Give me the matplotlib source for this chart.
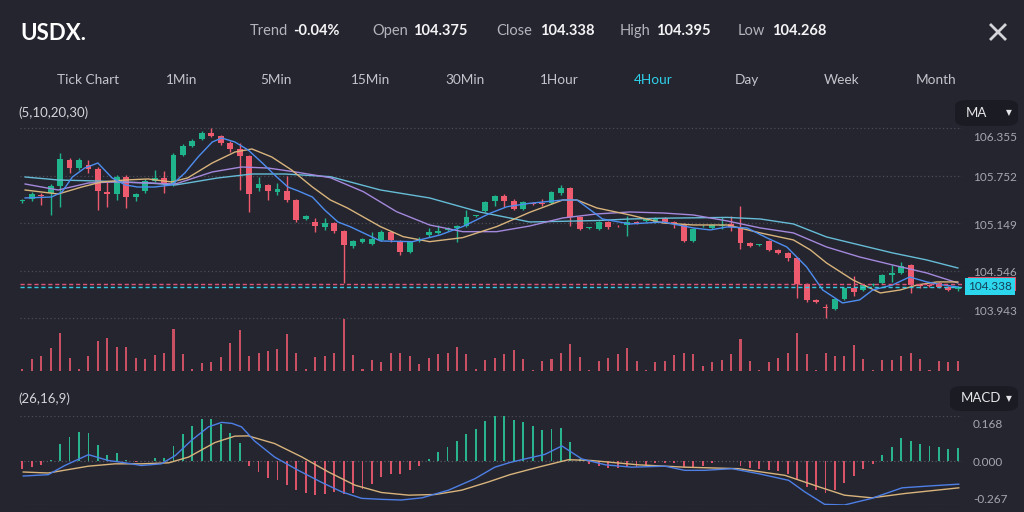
import numpy as np
import matplotlib
matplotlib.use("Agg")
import matplotlib.pyplot as plt
from matplotlib.lines import Line2D
from matplotlib.patches import FancyBboxPatch, Rectangle

plt.rcParams['font.family'] = ['Lato', 'DejaVu Sans']

W, H = 1024, 512
bg = '#25252f'
grid_c = '#4c4c58'
up_c = '#20b48d'
down_c = '#ee5a6e'

# ---- data (4 hour candles) ----
opens = [105.425, 105.454, 105.495, 105.530, 105.619, 105.949, 105.847, 105.885, 105.835, 105.543,
         105.517, 105.733, 105.479, 105.556, 105.682, 105.721, 105.644, 106.012, 106.127, 106.215,
         106.292, 106.253, 106.165, 106.089, 106.000, 105.594, 105.632, 105.543, 105.556, 105.441,
         105.200, 105.162, 105.099, 105.149, 105.048, 104.858, 104.908, 104.883, 104.934, 105.035,
         104.921, 104.782, 104.921, 104.997, 105.023, 105.061, 105.086, 105.111, 105.238, 105.302,
         105.429, 105.492, 105.429, 105.327, 105.403, 105.403, 105.403, 105.530, 105.594, 105.226,
         105.086, 105.073, 105.162, 105.111, 105.124, 105.162, 105.175, 105.162, 105.213, 105.162,
         105.137, 104.921, 105.105, 105.086, 105.111, 105.137, 105.099, 104.896, 104.867, 104.921,
         104.807, 104.769, 104.705, 104.375, 104.172, 104.078, 104.058, 104.185, 104.325, 104.299,
         104.363, 104.388, 104.490, 104.515, 104.616, 104.350, 104.356, 104.388, 104.337, 104.305]
highs = [105.454, 105.543, 105.530, 105.644, 106.038, 105.974, 105.974, 105.949, 105.860, 105.670,
         105.759, 105.759, 105.530, 105.708, 105.822, 105.809, 106.038, 106.152, 106.215, 106.317,
         106.355, 106.266, 106.190, 106.165, 106.012, 105.733, 105.644, 105.657, 105.746, 105.454,
         105.251, 105.213, 105.213, 105.162, 105.061, 104.934, 104.960, 105.035, 105.061, 105.048,
         104.934, 104.921, 104.972, 105.086, 105.124, 105.099, 105.124, 105.314, 105.251, 105.429,
         105.505, 105.517, 105.454, 105.429, 105.416, 105.454, 105.556, 105.632, 105.606, 105.238,
         105.099, 105.175, 105.175, 105.124, 105.238, 105.175, 105.213, 105.226, 105.226, 105.175,
         105.149, 105.086, 105.124, 105.137, 105.226, 105.238, 105.365, 104.908, 104.883, 104.934,
         104.820, 104.782, 104.718, 104.388, 104.185, 104.122, 104.198, 104.337, 104.477, 104.375,
         104.388, 104.502, 104.616, 104.655, 104.629, 104.363, 104.375, 104.401, 104.350, 104.350]
lows = [105.403, 105.429, 105.378, 105.251, 105.352, 105.784, 105.822, 105.784, 105.314, 105.352,
        105.441, 105.340, 105.429, 105.530, 105.670, 105.530, 105.619, 106.000, 106.114, 106.203,
        106.240, 106.139, 106.050, 105.568, 105.289, 105.556, 105.441, 105.505, 105.416, 105.162,
        105.188, 105.035, 105.061, 105.023, 104.388, 104.832, 104.896, 104.870, 104.921, 104.908,
        104.743, 104.769, 104.908, 104.972, 105.010, 105.048, 104.908, 105.099, 105.226, 105.289,
        105.365, 105.352, 105.314, 105.314, 105.378, 105.365, 105.391, 105.505, 105.111, 105.061,
        105.073, 105.061, 105.073, 105.092, 104.985, 105.137, 105.162, 105.149, 105.149, 105.086,
        104.908, 104.908, 105.092, 105.073, 105.073, 105.048, 104.820, 104.845, 104.858, 104.794,
        104.756, 104.667, 104.198, 104.147, 104.134, 103.944, 104.045, 104.172, 104.223, 104.287,
        104.350, 104.375, 104.401, 104.502, 104.261, 104.325, 104.337, 104.325, 104.287, 104.287]
closes = [105.432, 105.517, 105.490, 105.619, 105.962, 105.847, 105.949, 105.835, 105.556, 105.517,
          105.733, 105.479, 105.517, 105.682, 105.721, 105.644, 106.012, 106.127, 106.190, 106.292,
          106.253, 106.165, 106.089, 106.000, 105.517, 105.644, 105.556, 105.581, 105.441, 105.188,
          105.238, 105.111, 105.149, 105.048, 104.870, 104.921, 104.947, 104.947, 105.035, 104.934,
          104.782, 104.908, 104.947, 105.035, 105.048, 105.086, 105.111, 105.226, 105.245, 105.416,
          105.492, 105.429, 105.327, 105.416, 105.391, 105.391, 105.543, 105.594, 105.226, 105.073,
          105.092, 105.162, 105.099, 105.105, 105.162, 105.149, 105.200, 105.213, 105.162, 105.137,
          104.921, 105.073, 105.111, 105.124, 105.124, 105.099, 104.896, 104.858, 104.873, 104.807,
          104.769, 104.705, 104.375, 104.172, 104.147, 104.071, 104.185, 104.325, 104.274, 104.363,
          104.375, 104.490, 104.515, 104.604, 104.363, 104.344, 104.350, 104.337, 104.299, 104.338]
volumes = [2, 12, 15, 23, 38, 13, 2, 15, 30, 33, 24, 24, 13, 12, 16, 18, 42, 17, 2, 8,
           9, 14, 28, 41, 15, 18, 20, 22, 37, 18, 2, 14, 15, 18, 52, 16, 2, 11, 9, 18,
           18, 15, 7, 13, 17, 18, 24, 17, 2, 11, 13, 17, 21, 12, 1, 10, 12, 18, 27, 14,
           1, 10, 13, 17, 23, 10, 1, 9, 10, 16, 18, 17, 5, 9, 11, 17, 32, 10, 1, 9,
           13, 18, 38, 17, 1, 18, 15, 15, 26, 12, 1, 11, 11, 15, 18, 12, 1, 10, 9, 10]

# moving averages, sampled along the drawn lines (candle index, price)
ma5_idx = [0.3, 3.1, 4.2, 5.3, 6.6, 8.0, 9.5, 10.9, 12.2, 14.0, 15.8, 17.2, 18.6, 20.1, 21.1, 22.5,
           23.9, 25.4, 26.7, 28.1, 29.2, 30.7, 32.0, 33.4, 34.7, 37.9, 41.3, 44.2, 46.6, 49.5, 51.3,
           53.7, 57.2, 58.7, 61.4, 64.3, 67.8, 71.0, 72.8, 74.6, 76.7, 78.8, 80.9, 83.0, 84.7, 86.8,
           88.6, 90.0, 92.1, 93.9, 95.7, 97.4, 99.0]
ma5_val = [105.467, 105.479, 105.543, 105.733, 105.847, 105.911, 105.721, 105.632, 105.606, 105.606,
           105.632, 105.784, 105.987, 106.177, 106.228, 106.177, 106.076, 105.911, 105.759, 105.606,
           105.556, 105.479, 105.314, 105.162, 105.102, 104.921, 104.912, 104.997, 105.103, 105.273,
           105.356, 105.399, 105.441, 105.441, 105.200, 105.137, 105.162, 105.086, 105.061, 105.099,
           105.086, 104.960, 104.845, 104.591, 104.299, 104.134, 104.172, 104.299, 104.363, 104.464,
           104.401, 104.363, 104.337]
ma10_idx = [0.3, 3.8, 6.3, 8.4, 10.9, 13.3, 15.8, 17.5, 20.1, 22.5, 24.3, 26.4, 28.5, 30.7, 32.6,
            34.4, 37.9, 40.3, 43.1, 46.6, 50.2, 53.7, 57.2, 58.7, 60.8, 64.3, 67.8, 71.0, 74.6, 78.1,
            81.6, 83.4, 85.1, 87.9, 90.8, 92.9, 94.7, 96.8, 99.0]
ma10_val = [105.568, 105.517, 105.606, 105.670, 105.695, 105.708, 105.670, 105.721, 105.911, 106.050,
            106.089, 105.987, 105.822, 105.606, 105.441, 105.340, 105.103, 104.976, 104.912, 104.963,
            105.103, 105.285, 105.441, 105.441, 105.340, 105.251, 105.149, 105.124, 105.124, 105.023,
            104.934, 104.807, 104.642, 104.426, 104.261, 104.299, 104.363, 104.401, 104.401]
ma20_idx = [0.3, 3.8, 7.0, 9.8, 13.3, 16.2, 20.1, 23.2, 26.0, 28.9, 32.6, 36.1, 39.6, 43.1, 46.6,
            50.2, 53.7, 57.2, 60.8, 64.3, 67.8, 71.0, 74.6, 78.1, 81.6, 85.1, 88.6, 92.1, 95.7, 99.0]
ma20_val = [105.644, 105.568, 105.657, 105.670, 105.657, 105.644, 105.797, 105.860, 105.847, 105.797,
            105.724, 105.546, 105.293, 105.124, 105.039, 105.039, 105.111, 105.213, 105.264, 105.289,
            105.276, 105.251, 105.175, 105.086, 105.023, 104.845, 104.718, 104.616, 104.515, 104.388]
ma30_idx = [0.3, 3.8, 8.0, 13.3, 16.2, 17.5, 20.7, 24.3, 27.8, 32.6, 37.9, 43.1, 48.4, 53.7, 60.8,
            64.3, 67.8, 74.6, 78.1, 81.6, 85.1, 88.6, 92.1, 95.7, 99.0]
ma30_val = [105.733, 105.695, 105.682, 105.657, 105.632, 105.657, 105.721, 105.771, 105.771, 105.737,
            105.568, 105.467, 105.289, 105.162, 105.180, 105.200, 105.210, 105.220, 105.200, 105.137,
            104.972, 104.870, 104.769, 104.680, 104.578]

# MACD (26,16,9)
macd_hist = [-0.053, -0.040, -0.024, 0.002, 0.064, 0.087, 0.108, 0.104, 0.057, 0.022,
             0.028, 0.002, -0.010, -0.003, 0.010, 0.009, 0.055, 0.099, 0.130, 0.155,
             0.157, 0.136, 0.104, 0.066, -0.030, -0.069, -0.105, -0.119, -0.144, -0.178,
             -0.192, -0.204, -0.198, -0.188, -0.198, -0.192, -0.168, -0.138, -0.099, -0.083,
             -0.083, -0.059, -0.034, 0.004, 0.032, 0.051, 0.073, 0.099, 0.118, 0.150,
             0.168, 0.168, 0.153, 0.144, 0.130, 0.115, 0.118, 0.123, 0.070, 0.004,
             -0.020, -0.034, -0.046, -0.046, -0.040, -0.040, -0.026, -0.014, -0.014, -0.014,
             -0.040, -0.040, -0.030, -0.014, -0.004, -0.004, -0.030, -0.046, -0.050, -0.059,
             -0.065, -0.079, -0.119, -0.158, -0.178, -0.192, -0.178, -0.132, -0.093, -0.053,
             -0.020, 0.019, 0.051, 0.085, 0.074, 0.061, 0.055, 0.051, 0.045, 0.047]
dif_idx = [0.1, 2.75, 4.5, 7.0, 9.1, 10.9, 12.6, 14.7, 16.2, 17.9, 19.7, 21.1, 22.2, 23.2, 24.6,
           26.7, 29.2, 31.7, 33.8, 35.9, 38.0, 40.1, 42.3, 45.1, 47.9, 50.0, 51.6, 53.2, 55.3, 57.1,
           59.2, 61.7, 64.5, 68.0, 70.1, 72.2, 75.1, 77.9, 81.1, 82.8, 84.9, 87.0, 89.9, 93.1, 96.2, 99.1]
dif_val = [-0.093, -0.085, -0.030, 0.022, 0.000, -0.014, -0.030, -0.020, 0.019, 0.076, 0.127, 0.144,
           0.140, 0.127, 0.073, 0.013, -0.059, -0.132, -0.188, -0.227, -0.233, -0.237, -0.224, -0.178,
           -0.109, -0.040, -0.012, 0.006, 0.023, 0.055, 0.006, -0.026, -0.040, -0.034, -0.059, -0.059,
           -0.049, -0.079, -0.119, -0.188, -0.263, -0.267, -0.227, -0.164, -0.152, -0.142]
dea_idx = [0.1, 2.75, 7.0, 9.8, 12.6, 15.5, 17.6, 20.4, 22.5, 23.9, 26.7, 29.6, 32.4, 35.2, 38.0,
           40.9, 43.7, 46.5, 49.3, 51.6, 54.6, 57.8, 60.2, 65.2, 70.1, 75.8, 80.7, 84.3, 87.0, 89.9,
           93.4, 99.1]
dea_val = [-0.069, -0.075, -0.034, -0.020, -0.020, -0.014, 0.013, 0.068, 0.092, 0.093, 0.064, 0.013,
           -0.069, -0.148, -0.192, -0.208, -0.204, -0.178, -0.129, -0.085, -0.040, 0.003, 0.000, -0.026,
           -0.040, -0.049, -0.089, -0.158, -0.208, -0.224, -0.198, -0.164]

price_levels = [106.355, 105.752, 105.149, 104.546, 103.943]
macd_top, macd_bottom = 0.168, -0.267
last_open, last_close = 104.375, 104.338

header_labels = ["Trend", "Open", "Close", "High", "Low"]
header_values = ["-0.04%", "104.375", "104.338", "104.395", "104.268"]
tabs = ["Tick Chart", "1Min", "5Min", "15Min", "30Min", "1Hour", "4Hour", "Day", "Week", "Month"]
active_tab = "4Hour"


def rect(x0, y0, x1, y1):
    return [x0 / W, 1 - y1 / H, (x1 - x0) / W, (y1 - y0) / H]


def fx(x):
    return x / W


def fy(y):
    return 1 - y / H


def clean(ax):
    ax.set_facecolor('none')
    for s in ax.spines.values():
        s.set_visible(False)
    ax.set_xticks([])
    ax.set_yticks([])
    ax.tick_params(which='both', left=False, bottom=False, labelleft=False, labelbottom=False)


fig = plt.figure(figsize=(W / 100, H / 100), dpi=100, facecolor=bg)

n = len(closes)
idx = np.arange(n)
xlim = (-0.243, 99.44)

# ---- price panel ----
ppu = (318 - 128) / (price_levels[0] - price_levels[-1])
ax = fig.add_axes(rect(20, 120, 962, 320))
clean(ax)
ax.set_xlim(*xlim)
ax.set_ylim(price_levels[-1] - 2 / ppu, price_levels[0] + 8 / ppu)

for lv in price_levels:
    ax.axhline(lv, color=grid_c, lw=0.9, ls=(0, (1, 2)), zorder=0)

o = np.array(opens)
c = np.array(closes)
cols = [up_c if cc >= oo else down_c for oo, cc in zip(o, c)]
ax.vlines(idx, lows, highs, colors=cols, lw=1, zorder=2)
body = np.maximum(np.abs(c - o), 0.012)
ax.bar(idx, body, bottom=np.minimum(o, c), width=0.62, color=cols, zorder=3)

ax.plot(ma30_idx, ma30_val, color='#66bcd6', lw=1, zorder=4)
ax.plot(ma20_idx, ma20_val, color='#a488dc', lw=1, zorder=4)
ax.plot(ma10_idx, ma10_val, color='#d8b47c', lw=1, zorder=4)
ax.plot(ma5_idx, ma5_val, color='#4d8ef0', lw=1, zorder=4)

ax.axhline(last_open, color='#dd5478', lw=1, ls=(0, (3, 2)), zorder=5)
ax.axhline(last_close, color='#34c9e2', lw=1, ls=(0, (3, 2)), zorder=5)

ytr = ax.get_yaxis_transform()
for k, lv in enumerate(price_levels):
    if k == 0:
        va, dy = 'top', -4
    elif k == len(price_levels) - 1:
        va, dy = 'bottom', 1
    else:
        va, dy = 'center', -2
    ax.annotate(f"{lv:.3f}", xy=(1.0117, lv), xycoords=ytr, xytext=(0, dy),
                textcoords='offset pixels', va=va, ha='left', fontsize=8.5,
                color='#a6a6b0', annotation_clip=False)

# open-price marker sits mostly hidden behind the close-price label
ax.add_patch(Rectangle((fx(968), fy(291)), fx(48), 14 / H, fc='#e0506a', ec='none',
                       transform=fig.transFigure, zorder=6, clip_on=False))
ax.text(1.0065, last_close, f"{last_close:.3f}", transform=ytr, ha='left', va='center',
        fontsize=8.5, color='#15405a',
        bbox=dict(boxstyle='square,pad=0.25', fc='#2cd6ec', ec='none'), zorder=7, clip_on=False)

# ---- volume ----
axv = fig.add_axes(rect(20, 318, 962, 371))
clean(axv)
axv.set_xlim(*xlim)
axv.set_ylim(0, 53)
axv.bar(idx, np.maximum(volumes, 1.5), width=0.22, color='#c94f63')

# ---- MACD ----
def fwd(v):
    v = np.asarray(v, float)
    return np.where(v >= 0, v / macd_top, v / -macd_bottom)


def inv(u):
    u = np.asarray(u, float)
    return np.where(u >= 0, u * macd_top, u * -macd_bottom)


axm = fig.add_axes(rect(20, 416, 962, 505))
axm.set_yscale('function', functions=(fwd, inv))
clean(axm)
axm.set_xlim(*xlim)
axm.set_ylim(macd_bottom, macd_top)
for lv in (macd_top, 0.0, macd_bottom):
    axm.axhline(lv, color=grid_c if lv else '#5a5a66', lw=0.9, ls=(0, (1, 2)), zorder=0)
hist = np.array(macd_hist)
hcols = ['#2ab48e' if h >= 0 else '#d95468' for h in hist]
axm.bar(idx, hist, width=0.2, color=hcols, zorder=2)
axm.plot(dea_idx, dea_val, color='#d8b47c', lw=1, zorder=3)
axm.plot(dif_idx, dif_val, color='#4d7fe6', lw=1, zorder=3)

mtr = axm.get_yaxis_transform()
for lv, va, dy in ((macd_top, 'top', -3), (0.0, 'center', -2), (macd_bottom, 'bottom', 0)):
    axm.annotate(f"{lv:.3f}", xy=(1.0117, lv), xycoords=mtr, xytext=(0, dy),
                 textcoords='offset pixels', va=va, ha='left', fontsize=8.5,
                 color='#a6a6b0', annotation_clip=False)

# ---- header, tabs, captions ----
fig.text(fx(20), fy(33), "USDX.", fontsize=16, fontweight='bold', color='white', va='center')
label_x = [250, 372, 496, 620, 738]
value_x = [293, 413, 540, 656, 772]
for lab, val, x0, x1 in zip(header_labels, header_values, label_x, value_x):
    fig.text(fx(x0), fy(31), lab, fontsize=10.5, color='#b4b4bc', va='center')
    fig.text(fx(x1), fy(31), val, fontsize=10.5, fontweight='bold', color='#f4f4f6', va='center')

for (a, b) in (((991, 25), (1005, 39)), ((991, 39), (1005, 25))):
    fig.add_artist(Line2D([fx(a[0]), fx(b[0])], [fy(a[1]), fy(b[1])], color='#d4d4da', lw=2))

tab_x = [88, 182, 276, 371, 465, 559, 653, 747, 842, 936]
for name, x0 in zip(tabs, tab_x):
    fig.text(fx(x0), fy(80), name, fontsize=9.8, ha='center', va='center',
             color='#2fd0ea' if name == active_tab else '#c4c4cc')

fig.text(fx(18), fy(113), "(5,10,20,30)", fontsize=9.5, color='#d4d4da', va='center')
fig.text(fx(18), fy(399), "(26,16,9)", fontsize=9.5, color='#d4d4da', va='center')

for (x0, y0, x1, y1, lab) in ((955, 100, 1018, 126, "MA"), (950, 386, 1018, 411, "MACD")):
    fig.add_artist(FancyBboxPatch((fx(x0), fy(y1)), fx(x1 - x0), (y1 - y0) / H,
                                  boxstyle='round,pad=0,rounding_size=0.012',
                                  fc='#1b1b23', ec='none', transform=fig.transFigure))
    fig.text(fx(x0 + 11), fy((y0 + y1) / 2), lab, fontsize=9.5, color='#e6e6ea', va='center')
    fig.text(fx(x1 - 9), fy((y0 + y1) / 2), "▼", fontsize=5.5, color='#e6e6ea',
             va='center', ha='center', family=['DejaVu Sans'])

fig.savefig('out.png', dpi=100, facecolor=bg)
